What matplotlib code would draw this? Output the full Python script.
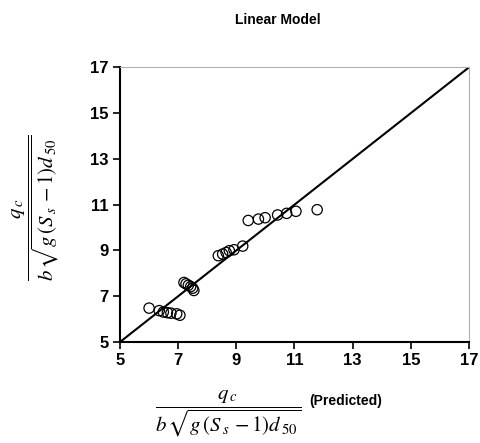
import matplotlib
matplotlib.use("Agg")
import matplotlib.pyplot as plt
import numpy as np

plt.rcParams['font.family'] = ['Liberation Sans', 'DejaVu Sans']
plt.rcParams['mathtext.fontset'] = 'stix'

observed_x = [6.00, 6.35, 6.49, 6.63, 6.75, 6.95, 7.06,
              7.20, 7.27, 7.35, 7.43, 7.50, 7.54,
              8.38, 8.53, 8.65, 8.76, 8.92, 9.22,
              9.41, 9.76, 9.99, 10.42, 10.73, 11.05, 11.78]
observed_y = [6.48, 6.37, 6.31, 6.28, 6.26, 6.23, 6.17,
              7.60, 7.54, 7.48, 7.42, 7.35, 7.25,
              8.77, 8.84, 8.91, 8.99, 9.03, 9.19,
              10.31, 10.37, 10.43, 10.55, 10.62, 10.71, 10.78]
line_x = [5, 17]
line_y = [5, 17]
ticks = [5, 7, 9, 11, 13, 15, 17]

fig = plt.figure(figsize=(4.80, 4.43), dpi=100)
ax = fig.add_axes([0.25, 0.228, 0.727, 0.620])

ax.plot(line_x, line_y, color='black', lw=1.5, zorder=2)
ax.scatter(observed_x, observed_y, s=55, facecolors='none', edgecolors='black',
           linewidths=0.9, zorder=3)

ax.set_xlim(5, 17)
ax.set_ylim(5, 17)
ax.set_xticks(ticks)
ax.set_yticks(ticks)
ax.set_xticklabels([str(t) for t in ticks], fontsize=12, fontweight='bold')
ax.set_yticklabels([str(t) for t in ticks], fontsize=12, fontweight='bold')
ax.tick_params(direction='out', length=5, width=1.2, pad=3)

for s in ['left', 'bottom']:
    ax.spines[s].set_linewidth(1.5)
    ax.spines[s].set_color('black')
for s in ['top', 'right']:
    ax.spines[s].set_linewidth(0.8)
    ax.spines[s].set_color('#b0b0b0')

frac = r'$\dfrac{q_{\,c}}{b\,\sqrt{g\,\left(S_{\,s}\,-1\right)d_{\,50}}}$'

fig.text(0.578, 0.955, 'Linear Model', ha='center', va='center',
         fontsize=10, fontweight='bold')

fig.text(0.075, 0.53, frac, rotation=90, ha='center', va='center', fontsize=15)
fig.text(0.475, 0.066, frac, ha='center', va='center', fontsize=15)
fig.text(0.72, 0.095, '(Predicted)', ha='center', va='center',
         fontsize=10, fontweight='bold')

fig.savefig('out.png', dpi=100)
